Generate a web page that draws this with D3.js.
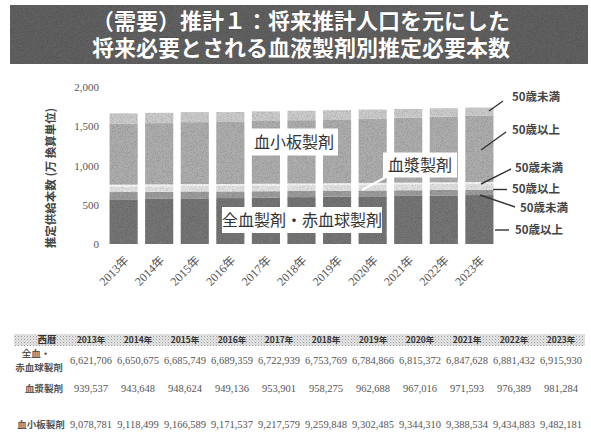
<!DOCTYPE html>
<html>
<head>
<meta charset="utf-8">
<script src="https://cdn.jsdelivr.net/npm/d3@7"></script>
<style>
  html, body { margin: 0; padding: 0; background: #fff; }
  svg { display: block; }
</style>
</head>
<body>
<svg id="chart" width="591" height="432"></svg>
<script>
// Fiscal years shown on the x axis and in the table
const years = ["2013年","2014年","2015年","2016年","2017年","2018年","2019年","2020年","2021年","2022年","2023年"];

// Projected required units per product (本)
const wholeBloodTotal = [6621706, 6650675, 6685749, 6689359, 6722939, 6753769, 6784866, 6815372, 6847628, 6881432, 6915930];
const plasmaTotal     = [939537, 943648, 948624, 949136, 953901, 958275, 962688, 967016, 971593, 976389, 981284];
const plateletTotal   = [9078781, 9118499, 9166589, 9171537, 9217579, 9259848, 9302485, 9344310, 9388534, 9434883, 9482181];

// Share attributed to donors under 50 (万本, converted units)
const wholeBloodUnder50 = [93, 90, 87, 84, 81, 78, 76, 74, 72, 70, 68];
const plasmaUnder50     = [24, 24, 23, 23, 22, 22, 21, 21, 20, 20, 19];
const plateletUnder50   = [133, 131, 128, 126, 123, 120, 117, 114, 111, 108, 105];

const yTicks = [0, 500, 1000, 1500, 2000];

const svg = d3.select("#chart");
const serif = "'Liberation Serif','Noto Sans CJK JP',serif";
const gothic = "'Noto Sans CJK JP','Noto Sans',sans-serif";

// ---- grain filter for the printed look ----
const defs = svg.append("defs");
const grain = defs.append("filter").attr("id", "grain").attr("x", 0).attr("y", 0).attr("width", 1).attr("height", 1);
grain.append("feTurbulence").attr("type", "fractalNoise").attr("baseFrequency", 1.2).attr("numOctaves", 1).attr("seed", 3).attr("result", "noise");
grain.append("feColorMatrix").attr("in", "noise").attr("type", "matrix")
  .attr("values", "0 0 0 0 0  0 0 0 0 0  0 0 0 0 0  0 0 0 -3 1.7").attr("result", "dots");
grain.append("feComposite").attr("in", "dots").attr("in2", "SourceGraphic").attr("operator", "in").attr("result", "dotsIn");
grain.append("feComponentTransfer").attr("in", "dotsIn").attr("result", "soft")
  .append("feFuncA").attr("type", "linear").attr("slope", 0.3);
const gm = grain.append("feMerge");
gm.append("feMergeNode").attr("in", "SourceGraphic");
gm.append("feMergeNode").attr("in", "soft");

const dotPat = defs.append("pattern").attr("id", "dots").attr("width", 3).attr("height", 3).attr("patternUnits", "userSpaceOnUse");
dotPat.append("rect").attr("width", 3).attr("height", 3).attr("fill", "#e6e6e6");
dotPat.append("rect").attr("width", 1).attr("height", 1).attr("fill", "#9a9a9a");
dotPat.append("rect").attr("x", 1.5).attr("y", 1.5).attr("width", 1).attr("height", 1).attr("fill", "#b5b5b5");

// ---- title band ----
svg.append("rect").attr("x", 10).attr("y", 5).attr("width", 578).attr("height", 59)
  .attr("fill", "#606060").attr("filter", "url(#grain)");
const titleLines = ["（需要）推計１：将来推計人口を元にした", "将来必要とされる血液製剤別推定必要本数"];
svg.append("text")
  .attr("text-anchor", "middle")
  .attr("font-family", gothic).attr("font-weight", 700).attr("font-size", 22)
  .attr("fill", "#fff")
  .attr("stroke", "#333").attr("stroke-width", 0.4).attr("paint-order", "stroke")
  .selectAll("tspan").data(titleLines).join("tspan")
  .attr("x", 301).attr("y", (d, i) => 29 + i * 27)
  .text(d => d);

// ---- scales ----
const x = d3.scaleBand().domain(years).range([106, 497]).paddingInner(0.21).paddingOuter(0.1);
const y = d3.scaleLinear().domain([0, 2000]).range([244, 87]);

// stacked layers, bottom to top
const rows = years.map((yr, i) => {
  const wb = wholeBloodTotal[i] / 10000, pl = plasmaTotal[i] / 10000, pt = plateletTotal[i] / 10000;
  return {
    year: yr,
    wbOver: wb - wholeBloodUnder50[i], wbUnder: wholeBloodUnder50[i],
    plOver: pl - plasmaUnder50[i], plUnder: plasmaUnder50[i],
    ptOver: pt - plateletUnder50[i], ptUnder: plateletUnder50[i]
  };
});
const keys = ["wbOver", "wbUnder", "plOver", "plUnder", "ptOver", "ptUnder"];
const colors = { wbOver: "#747474", wbUnder: "#9c9c9c", plOver: "#e2e2e2", plUnder: "#f6f6f6", ptOver: "#adadad", ptUnder: "#cbcbcb" };
const series = d3.stack().keys(keys)(rows);

svg.append("g").attr("filter", "url(#grain)")
  .selectAll("g").data(series).join("g").attr("fill", d => colors[d.key])
  .selectAll("rect").data(d => d).join("rect")
  .attr("x", d => x(d.data.year))
  .attr("width", x.bandwidth())
  .attr("y", d => y(d[1]))
  .attr("height", d => y(d[0]) - y(d[1]));

// ---- y axis (labels only) ----
const yAxis = svg.append("g").attr("transform", "translate(99,0)")
  .call(d3.axisLeft(y).tickValues(yTicks).tickFormat(d3.format(",")).tickSize(0).tickPadding(0));
yAxis.select(".domain").remove();
yAxis.selectAll("text").attr("font-family", serif).attr("font-size", 11).attr("fill", "#555");

svg.append("text")
  .attr("transform", "translate(55,178) rotate(-90)")
  .attr("text-anchor", "middle")
  .attr("font-family", gothic).attr("font-weight", 700).attr("font-size", 11.5).attr("fill", "#444")
  .text("推定供給本数 (万 換算単位)");

// ---- x axis labels ----
const xAxis = svg.append("g").attr("transform", "translate(0,252)")
  .call(d3.axisBottom(x).tickSize(0).tickPadding(0));
xAxis.select(".domain").remove();
xAxis.selectAll("text")
  .attr("font-family", serif).attr("font-size", 12).attr("fill", "#555")
  .attr("text-anchor", "end")
  .attr("dy", 0)
  .attr("transform", "translate(6,9) rotate(-45)");

// ---- product labels in white boxes ----
function boxLabel(text, cx, cy, w, h, size) {
  svg.append("rect").attr("x", cx - w / 2).attr("y", cy - h / 2).attr("width", w).attr("height", h).attr("fill", "#fff");
  svg.append("text").attr("x", cx).attr("y", cy).attr("dy", "0.36em").attr("text-anchor", "middle")
    .attr("font-family", gothic).attr("font-size", size).attr("fill", "#333").text(text);
}
svg.append("line").attr("x1", 388).attr("y1", 176).attr("x2", 362).attr("y2", 190)
  .attr("stroke", "#fff").attr("stroke-width", 2.5);
boxLabel("血小板製剤", 294, 142, 88, 27, 16);
boxLabel("血漿製剤", 420, 165, 74, 25, 16);
boxLabel("全血製剤・赤血球製剤", 302, 220, 160, 26, 16);

// ---- age-group callouts at the right ----
const callouts = [
  { t: "50歳未満", tx: 512, ty: 97,  x1: 503, y1: 101, x2: 489, y2: 111 },
  { t: "50歳以上", tx: 512, ty: 130, x1: 506, y1: 132, x2: 481, y2: 150 },
  { t: "50歳未満", tx: 515, ty: 168, x1: 511, y1: 169, x2: 481, y2: 184 },
  { t: "50歳以上", tx: 512, ty: 189, x1: 493, y1: 189.5, x2: 507, y2: 189.5 },
  { t: "50歳未満", tx: 520, ty: 208, x1: 515, y1: 207, x2: 480, y2: 195 },
  { t: "50歳以上", tx: 515, ty: 230, x1: 495, y1: 230, x2: 509, y2: 230 }
];
svg.append("g").selectAll("line").data(callouts).join("line")
  .attr("x1", d => d.x1).attr("y1", d => d.y1).attr("x2", d => d.x2).attr("y2", d => d.y2)
  .attr("stroke", "#333").attr("stroke-width", 1.4);
svg.append("g").selectAll("text").data(callouts).join("text")
  .attr("x", d => d.tx).attr("y", d => d.ty).attr("dy", "0.36em")
  .attr("font-family", gothic).attr("font-weight", 700).attr("font-size", 11.5).attr("fill", "#444")
  .text(d => d.t);

// ---- data table ----
const colX = i => 91 + 47 * i;
svg.append("rect").attr("x", 14).attr("y", 334).attr("width", 571).attr("height", 12).attr("fill", "url(#dots)");
svg.append("text").attr("x", 47).attr("y", 340).attr("dy", "0.36em").attr("text-anchor", "middle")
  .attr("font-family", gothic).attr("font-weight", 700).attr("font-size", 9.5).attr("fill", "#333").text("西暦");
svg.append("g").selectAll("text").data(years).join("text")
  .attr("x", (d, i) => colX(i)).attr("y", 340).attr("dy", "0.36em").attr("text-anchor", "middle")
  .attr("font-family", gothic).attr("font-weight", 700).attr("font-size", 8.5).attr("fill", "#333")
  .text(d => d);

const rowLabelStyle = sel => sel.attr("text-anchor", "middle").attr("font-family", gothic)
  .attr("font-weight", 700).attr("font-size", 9.5).attr("fill", "#555");
svg.append("text").attr("x", 36).attr("y", 357).call(rowLabelStyle).text("全血・");
svg.append("text").attr("x", 39).attr("y", 371).call(rowLabelStyle).text("赤血球製剤");
svg.append("text").attr("x", 44).attr("y", 392).call(rowLabelStyle).text("血漿製剤");
svg.append("text").attr("x", 41).attr("y", 428).call(rowLabelStyle).text("血小板製剤");

const fmt = d3.format(",");
const tableRows = [
  { vals: wholeBloodTotal, y: 364 },
  { vals: plasmaTotal, y: 392 },
  { vals: plateletTotal, y: 428 }
];
tableRows.forEach(r => {
  svg.append("g").selectAll("text").data(r.vals).join("text")
    .attr("x", (d, i) => colX(i)).attr("y", r.y).attr("text-anchor", "middle")
    .attr("font-family", serif).attr("font-size", 10.5).attr("fill", "#555")
    .text(d => fmt(d));
});
</script>
</body>
</html>
